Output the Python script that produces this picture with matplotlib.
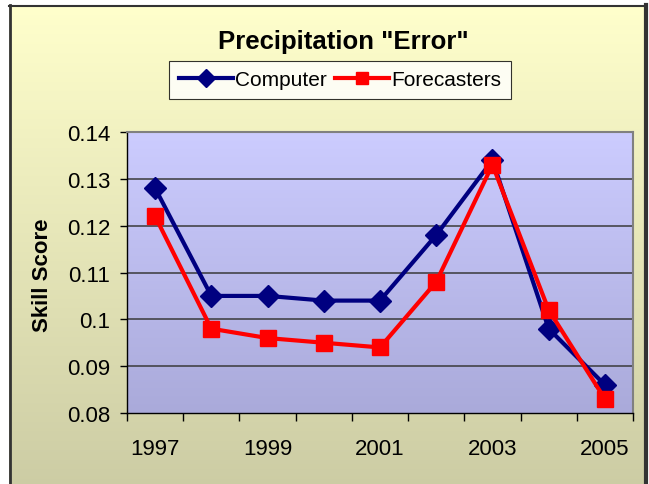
import numpy as np
import matplotlib
matplotlib.use("Agg")
import matplotlib.pyplot as plt
from matplotlib.colors import LinearSegmentedColormap

years = ["1997", "1998", "1999", "2000", "2001", "2002", "2003", "2004", "2005"]
computer = [0.128, 0.105, 0.105, 0.104, 0.104, 0.118, 0.134, 0.098, 0.086]
forecasters = [0.122, 0.098, 0.096, 0.095, 0.094, 0.108, 0.133, 0.102, 0.083]
yticks = [0.08, 0.09, 0.10, 0.11, 0.12, 0.13, 0.14]
ytick_labels = ["0.08", "0.09", "0.1", "0.11", "0.12", "0.13", "0.14"]

plt.rcParams['font.family'] = ['Liberation Sans', 'DejaVu Sans']

W, H = 649, 485
fig = plt.figure(figsize=(W / 100, H / 100), dpi=100)
fig.patch.set_facecolor("white")

# Background panel with yellow gradient
bg = fig.add_axes([0, 0, 1, 1], zorder=-5)
bg.set_xlim(0, W)
bg.set_ylim(H, 0)
bg.axis("off")
ycmap = LinearSegmentedColormap.from_list("y", ["#FFFFCC", "#CCCCA4"])
grad = np.linspace(0, 1, 256).reshape(-1, 1)
bg.imshow(grad, cmap=ycmap, extent=[9, 645, 490, 6], aspect="auto", interpolation="bilinear")
bg.plot([9.5, 9.5], [6, 490], color="#333333", lw=2)
bg.plot([9, 645], [6.5, 6.5], color="#333333", lw=1.5)
bg.plot([645.5, 645.5], [6, 490], color="#333333", lw=3)

left, right, top, bottom = 127 / W, 633 / W, 1 - 133 / H, 1 - 414 / H
ax = fig.add_axes([left, bottom, right - left, top - bottom])
pcmap = LinearSegmentedColormap.from_list("p", ["#CCCCFF", "#AAAADA"])
ax.imshow(grad, cmap=pcmap, extent=[0, 1, 0, 1], transform=ax.transAxes,
          aspect="auto", zorder=0, interpolation="bilinear")

x = np.arange(len(years))
ax.set_xlim(-0.5, len(years) - 0.5)
ax.set_ylim(0.08, 0.14)
ax.set_yticks(yticks)
ax.set_yticklabels(ytick_labels)
for yv in yticks[1:-1]:
    ax.axhline(yv, color="#3A3A3A", lw=1.1, zorder=1)

ax.plot(x, computer, color="#000080", lw=3, marker="D", markersize=11,
        label="Computer", zorder=3, clip_on=False)
ax.plot(x, forecasters, color="#FF0000", lw=3, marker="s", markersize=11,
        label="Forecasters", zorder=4, clip_on=False)

ax.set_xticks(np.arange(-0.5, len(years), 1.0))
ax.set_xticklabels([])
ax.set_xticks(x[::2], minor=True)
ax.set_xticklabels([years[i] for i in x[::2]], minor=True)
ax.tick_params(axis="x", which="major", direction="out", length=6, width=1, color="black")
ax.tick_params(axis="x", which="minor", length=0, pad=18, labelsize=16)
ax.tick_params(axis="y", direction="out", length=5, width=1, pad=7, labelsize=16)

for s in ["top", "right"]:
    ax.spines[s].set_color("#808080")
    ax.spines[s].set_linewidth(1.5)
for s in ["left", "bottom"]:
    ax.spines[s].set_color("black")
    ax.spines[s].set_linewidth(1)

fig.text(42 / W, 1 - 275 / H, "Skill Score", rotation=90, ha="center", va="center",
         fontsize=16, fontweight="bold")
fig.text(343 / W, 1 - 42 / H, 'Precipitation "Error"', ha="center", va="center",
         fontsize=18.5, fontweight="bold")

leg = fig.legend(loc="center", bbox_to_anchor=(340 / W, 1 - 81 / H), ncol=2,
                 fontsize=15, frameon=True, fancybox=False, edgecolor="black",
                 handlelength=2.6, handletextpad=0.1, columnspacing=0.4,
                 borderpad=0.45, markerscale=0.85)
leg.get_frame().set_linewidth(0.8)
leg.get_frame().set_facecolor("white")

fig.savefig("out.png", dpi=100)
